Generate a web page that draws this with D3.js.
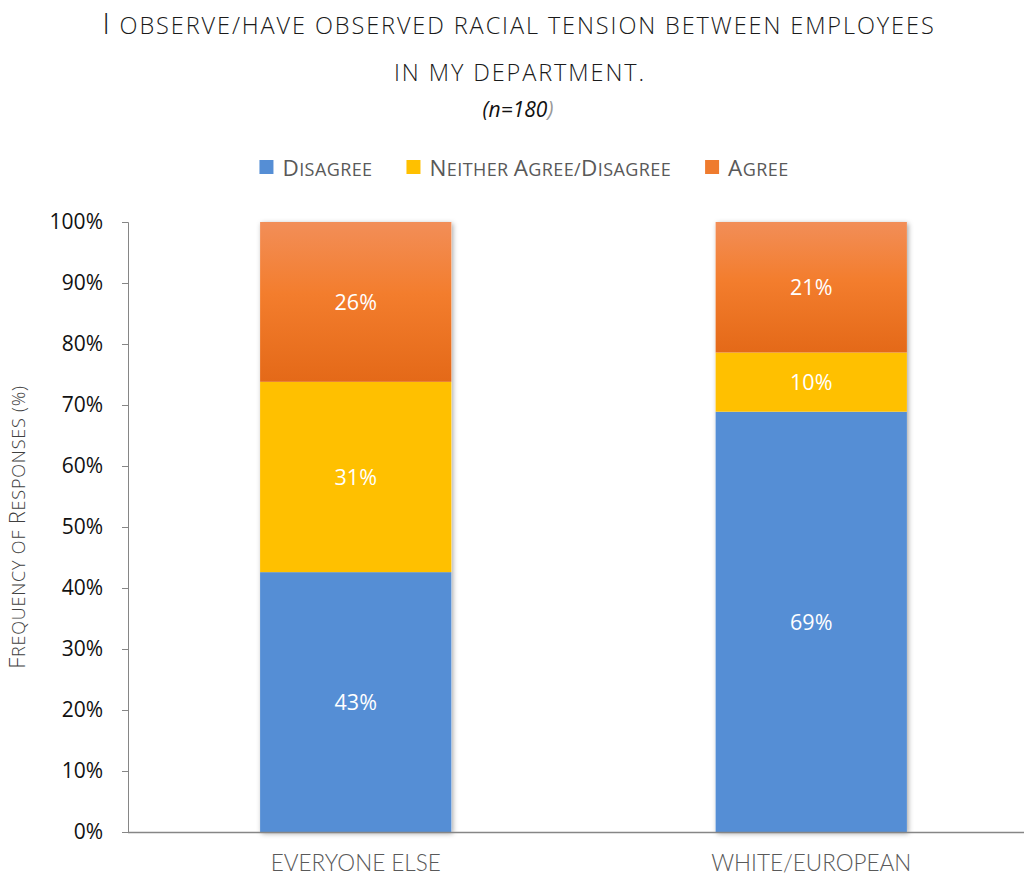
<!DOCTYPE html>
<html><head><meta charset="utf-8">
<script src="https://cdn.jsdelivr.net/npm/d3@7"></script>
<style>
body{margin:0;background:#fff;}
svg{display:block;}
</style></head>
<body>
<svg id="chart" width="1027" height="882"></svg>
<script>
const categories = ["EVERYONE ELSE", "WHITE/EUROPEAN"];
const seriesNames = ["Disagree", "Neither Agree/Disagree", "Agree"];
const disagree = [42.6, 68.9];
const neither = [31.2, 9.7];
const agree = [26.2, 21.4];
const yTicks = [0, 10, 20, 30, 40, 50, 60, 70, 80, 90, 100];
const titleLines = ["I observe/have observed racial tension between employees", "in my department."];
const subtitle = "(n=180";
const yTitle = "Frequency of Responses (%)";

const svg = d3.select("#chart");
const x = d3.scaleBand().domain(categories).range([128, 1039]).paddingInner(0.58).paddingOuter(0.29);
const y = d3.scaleLinear().domain([0, 100]).range([832, 222]);

const defs = svg.append("defs");
const grad = defs.append("linearGradient").attr("id","orangeGrad").attr("x1",0).attr("y1",0).attr("x2",0).attr("y2",1);
grad.append("stop").attr("offset","0%").attr("stop-color","#F28E58");
grad.append("stop").attr("offset","45%").attr("stop-color","#F37D2D");
grad.append("stop").attr("offset","100%").attr("stop-color","#E46918");
const f = defs.append("filter").attr("id","shadow").attr("x","-10%").attr("y","-10%").attr("width","120%").attr("height","120%");
f.append("feDropShadow").attr("dx",1.5).attr("dy",1.5).attr("stdDeviation",2.5).attr("flood-color","#000").attr("flood-opacity",0.35);

const colors = {"Disagree":"#558ED5","Neither Agree/Disagree":"#FFC000","Agree":"url(#orangeGrad)"};
const legendColors = {"Disagree":"#558ED5","Neither Agree/Disagree":"#FFC000","Agree":"#EF7B2E"};

function smallCaps(textSel, str, bigSize, smallSize){
  const runs = [];
  for (const ch of str){
    const isUp = ch !== ch.toLowerCase();
    const last = runs[runs.length-1];
    if (last && last.up === isUp) last.s += ch; else runs.push({up:isUp, s:ch});
  }
  runs.forEach(r=>{
    textSel.append("tspan").style("font-size", (r.up?bigSize:smallSize)+"px").text(r.s.toUpperCase());
  });
  return textSel;
}

const tFont = "'Open Sans', sans-serif";
const t1 = svg.append("text").attr("x", 519).attr("y", 34).attr("text-anchor","middle")
  .style("font-family", tFont).style("font-weight",300).style("letter-spacing","1.9px").attr("fill","#1a1a1a");
smallCaps(t1, titleLines[0], 29, 23.5);
const t2 = svg.append("text").attr("x", 520).attr("y", 81).attr("text-anchor","middle")
  .style("font-family", tFont).style("font-weight",300).style("letter-spacing","1.9px").attr("fill","#1a1a1a");
smallCaps(t2, titleLines[1], 29, 23.5);
const sub = svg.append("text").attr("x", 518).attr("y", 117).attr("text-anchor","middle")
  .style("font-family","'Open Sans', sans-serif").style("font-style","italic").style("font-size","21px").attr("fill","#111");
sub.append("tspan").text(subtitle);
sub.append("tspan").attr("fill","#999").text(")");

const rows = categories.map((c,i)=>({cat:c, "Disagree":disagree[i], "Neither Agree/Disagree":neither[i], "Agree":agree[i]}));
const stack = d3.stack().keys(seriesNames)(rows);

const barG = svg.append("g");
categories.forEach((c)=>{
  barG.append("rect").attr("x", x(c)).attr("width", x.bandwidth())
    .attr("y", y(100)).attr("height", y(0)-y(100)).attr("fill","#fff").attr("filter","url(#shadow)");
});
stack.forEach(s=>{
  barG.selectAll(null).data(s).enter().append("rect")
    .attr("x", d=>x(d.data.cat)).attr("width", x.bandwidth())
    .attr("y", d=>y(d[1])).attr("height", d=>y(d[0])-y(d[1]))
    .attr("fill", colors[s.key]);
});
stack.forEach(s=>{
  svg.selectAll(null).data(s).enter().append("text")
    .attr("x", d=>x(d.data.cat)+x.bandwidth()/2)
    .attr("y", d=>(y(d[0])+y(d[1]))/2)
    .attr("dy","0.36em").attr("text-anchor","middle")
    .style("font-family","'Open Sans', sans-serif").style("font-size","21.5px")
    .attr("fill","#fff").text(d=>Math.round(d[1]-d[0])+"%");
});

const yAxis = d3.axisLeft(y).tickValues(yTicks).tickFormat(d=>d+"%").tickSize(6).tickPadding(19);
const yg = svg.append("g").attr("transform","translate(128,0)").call(yAxis);
yg.select(".domain").attr("stroke","#868686").attr("d","M-6,222.5H0.5V832.5H-6");
yg.selectAll(".tick line").attr("stroke","#868686");
yg.selectAll(".tick text").style("font-family","'Open Sans', sans-serif").style("font-size","21px").attr("fill","#111");

const xAxis = d3.axisBottom(x).tickSize(0).tickPadding(23);
const xg = svg.append("g").attr("transform","translate(0,832)").call(xAxis);
xg.select(".domain").attr("stroke","#868686").attr("stroke-width",1.3).attr("d","M128,0.5H1024");
xg.selectAll(".tick text").style("font-family", "Lato, sans-serif").style("font-weight",300).style("font-size","22.5px").attr("fill","#595959");

const yt = svg.append("text").attr("transform","translate(25,527) rotate(-90)").attr("text-anchor","middle")
  .style("font-family", tFont).style("font-weight",300).style("letter-spacing","0.8px").attr("fill","#404040");
smallCaps(yt, yTitle, 22, 18);

const lg = svg.append("g");
let lx = 0;
seriesNames.forEach(n=>{
  const g = lg.append("g").attr("transform",`translate(${lx},0)`);
  g.append("rect").attr("x",0).attr("y",160).attr("width",14).attr("height",14).attr("fill",legendColors[n]);
  const t = g.append("text").attr("x",23).attr("y",176)
    .style("font-family", tFont).style("font-weight",400).style("letter-spacing","0.4px").attr("fill","#595959");
  smallCaps(t, n, 22.5, 18);
  const w = t.node().getComputedTextLength();
  lx += 23 + w + 34;
});
const totalW = lx - 34;
lg.attr("transform",`translate(${524 - totalW/2},0)`);
</script>
</body></html>
